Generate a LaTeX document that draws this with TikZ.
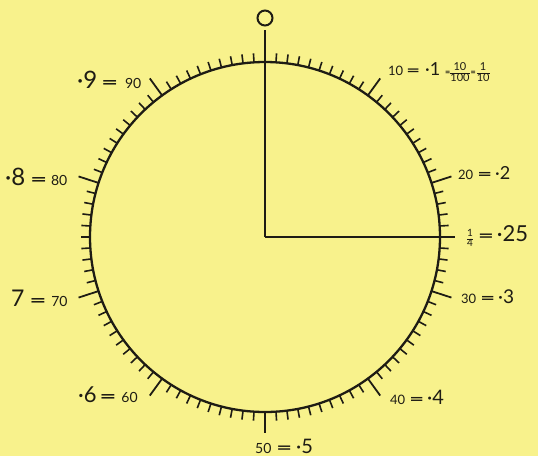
\documentclass[tikz,border=0pt]{standalone}
\usepackage{fontspec}
\usepackage{graphicx}
\setmainfont{Lato}
\definecolor{paper}{RGB}{248,242,140}
\definecolor{ink}{RGB}{30,28,20}
\newcommand{\fs}[1]{\fontsize{#1}{#1}\selectfont}
\newcommand{\eqs}[1][1.7]{\scalebox{#1}[1]{\bfseries =}}
\newcommand{\myfrac}[2]{{\setlength{\tabcolsep}{0pt}\renewcommand{\arraystretch}{0.75}\begin{tabular}[c]{c}#1\\\hline #2\end{tabular}}}
\tikzset{
  lbl/.style={anchor=west, inner sep=0pt, text=ink},
  shorttick/.style={line width=1.6pt, draw=ink},
  longtick/.style={line width=1.8pt, draw=ink},
}
\begin{document}
\begin{tikzpicture}[x=1pt,y=-1pt]
\fill[paper] (0,0) rectangle (538,456);
\useasboundingbox (0,0) rectangle (538,456);
\coordinate (O) at (265,237);
% ticks
\foreach \i in {1,...,99}{
  \pgfmathtruncatemacro{\m}{mod(\i,10)}
  \ifnum\i=25\relax\else
  \ifnum\m=0
    \draw[longtick] ({265+175*sin(3.6*\i)},{237-175*cos(3.6*\i)}) -- ({265+196*sin(3.6*\i)},{237-196*cos(3.6*\i)});
  \else
    \draw[shorttick] ({265+175*sin(3.6*\i)},{237-175*cos(3.6*\i)}) -- ({265+184*sin(3.6*\i)},{237-184*cos(3.6*\i)});
  \fi\fi
}
\draw[ink, line width=2.3pt] (O) circle[radius=175];
\coordinate (top) at (265,30);
\coordinate (qr) at (455,237);
\draw[ink, line width=2pt] (O) -- (top);
\draw[ink, line width=2pt] (O) -- (qr);
\node[draw=ink, line width=2pt, circle, minimum size=15pt, inner sep=0pt] (zero) at (265,18) {};
% labels
\node[lbl] (l10) at (388,73) {{\fs{13}10}\hspace{3pt}{\fs{14}\eqs}\hspace{5pt}{\fs{18}·1}\hspace{5pt}{\fs{9}\bfseries =}{\fs{11}\myfrac{10}{100}}\hspace{1pt}{\fs{9}\bfseries =}\hspace{1pt}{\fs{11}\myfrac{1}{10}}};
\node[lbl] (l20) at (458,173) {{\fs{13}20}\hspace{4pt}{\fs{15}\eqs}\hspace{3pt}{\fs{18}·2}};
\node[lbl] (l25) at (467,237) {{\fs{10}\myfrac{1}{4}}\hspace{5pt}{\fs{16}\eqs}\hspace{3pt}{\fs{22}·25}};
\node[lbl] (l30) at (461,297) {{\fs{13}30}\hspace{4pt}{\fs{15}\eqs}\hspace{3pt}{\fs{19}·3}};
\node[lbl] (l40) at (390,397) {{\fs{13}40}\hspace{4pt}{\fs{15}\eqs}\hspace{3pt}{\fs{20}·4}};
\node[lbl] (l50) at (255,446) {{\fs{14}50}\hspace{5pt}{\fs{16}\eqs}\hspace{4pt}{\fs{20}·5}};
\node[lbl] (l60) at (78,395) {{\fs{22}·6}\hspace{3pt}{\fs{17}\eqs}\hspace{5pt}{\fs{14}60}};
\node[lbl] (l70) at (11,298) {{\fs{23}7}\hspace{5pt}{\fs{17}\eqs}\hspace{5pt}{\fs{14}70}};
\node[lbl] (l80) at (5,177) {{\fs{24}·8}\hspace{5pt}{\fs{17}\eqs}\hspace{4pt}{\fs{14}80}};
\node[lbl] (l90) at (77,80) {{\fs{24}·9}\hspace{4pt}{\fs{17}\eqs}\hspace{7pt}{\fs{14}90}};
\end{tikzpicture}
\end{document}
